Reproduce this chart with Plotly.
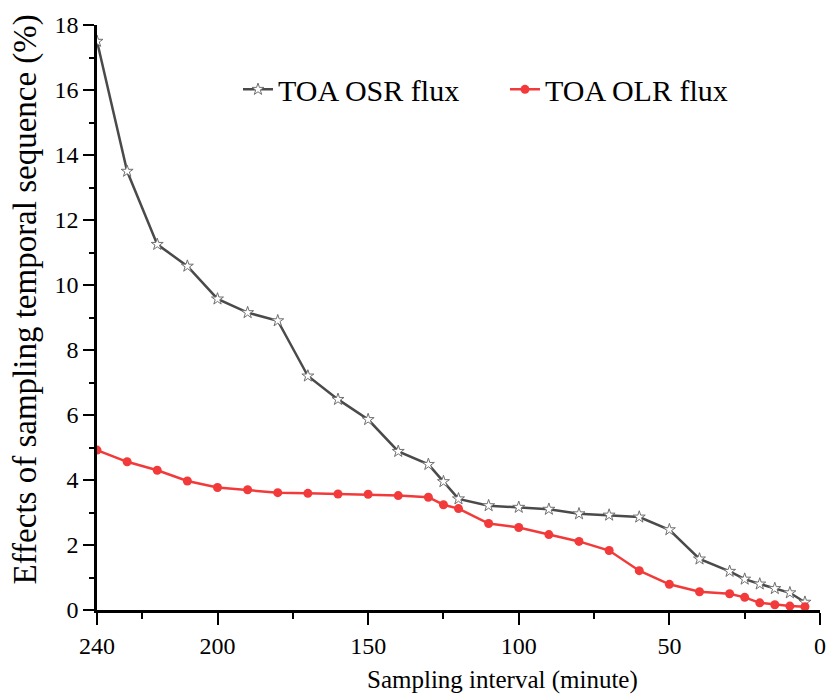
import plotly.graph_objects as go

interval = [240, 230, 220, 210, 200, 190, 180, 170, 160, 150, 140, 130, 125, 120,
            110, 100, 90, 80, 70, 60, 50, 40, 30, 25, 20, 15, 10, 5]
osr = [17.5, 13.5, 11.25, 10.58, 9.57, 9.15, 8.9, 7.2, 6.48, 5.86, 4.88, 4.48, 3.95, 3.42,
       3.21, 3.16, 3.1, 2.96, 2.92, 2.86, 2.47, 1.57, 1.19, 0.95, 0.8, 0.66, 0.53, 0.24]
olr = [4.92, 4.56, 4.3, 3.97, 3.77, 3.7, 3.61, 3.59, 3.57, 3.56, 3.52, 3.47, 3.24, 3.12,
       2.66, 2.54, 2.32, 2.11, 1.83, 1.21, 0.79, 0.56, 0.5, 0.39, 0.22, 0.16, 0.12, 0.1]

x_tickvals = [240, 200, 150, 100, 50, 0]
x_ticktext = ["240", "200", "150", "100", "50", "0"]
x_minor = [225, 175, 125, 75, 25]
y_tickvals = [0, 2, 4, 6, 8, 10, 12, 14, 16, 18]
y_minor = [1, 3, 5, 7, 9, 11, 13, 15, 17]

x_title = "Sampling interval (minute)"
y_title = "Effects of sampling temporal sequence (%)"

font_family = "Liberation Serif"

fig = go.Figure()
fig.add_trace(go.Scatter(
    x=interval, y=osr, mode="lines+markers", name="TOA OSR flux",
    line=dict(color="#4a4a4a", width=2.5),
    marker=dict(symbol="star", size=9, color="white",
                line=dict(color="#707070", width=1)),
))
fig.add_trace(go.Scatter(
    x=interval, y=olr, mode="lines+markers", name="TOA OLR flux",
    line=dict(color="#f23a3a", width=2.5),
    marker=dict(symbol="circle", size=9, color="#f23a3a"),
))

fig.update_layout(
    width=832, height=696,
    margin=dict(l=97, r=6, t=25, b=86),
    paper_bgcolor="white", plot_bgcolor="white",
    font=dict(family=font_family, color="black", size=24),
    showlegend=True,
    legend=dict(orientation="h", x=0.195, y=0.89, xanchor="left", yanchor="middle",
                font=dict(size=30, family=font_family), bgcolor="rgba(0,0,0,0)",
                entrywidth=222),
    xaxis=dict(
        range=[240, 0], autorange=False,
        tickmode="array", tickvals=x_tickvals, ticktext=x_ticktext,
        ticks="outside", ticklen=12, tickwidth=2, tickcolor="black",
        minor=dict(tickvals=x_minor, ticks="outside", ticklen=6,
                   tickwidth=2, tickcolor="black", showgrid=False),
        showline=True, linecolor="black", linewidth=2.5,
        showgrid=False, zeroline=False,
        tickfont=dict(size=24, family=font_family),
    ),
    yaxis=dict(
        range=[0, 18], autorange=False,
        tickmode="array", tickvals=y_tickvals,
        ticks="outside", ticklen=11, tickwidth=2, tickcolor="black",
        minor=dict(tickvals=y_minor, ticks="outside", ticklen=5,
                   tickwidth=2, tickcolor="black", showgrid=False),
        showline=True, linecolor="black", linewidth=2.5,
        showgrid=False, zeroline=False,
        tickfont=dict(size=24, family=font_family),
    ),
    annotations=[
        dict(text=x_title, xref="paper", yref="paper", x=0.561, y=-0.1197,
             xanchor="center", yanchor="middle", showarrow=False,
             font=dict(size=25, family=font_family)),
        dict(text=y_title, xref="paper", yref="paper", x=-0.099, y=0.5316,
             xanchor="center", yanchor="middle", showarrow=False, textangle=-90,
             font=dict(size=33, family=font_family)),
    ],
)

fig.write_html("out.html")
